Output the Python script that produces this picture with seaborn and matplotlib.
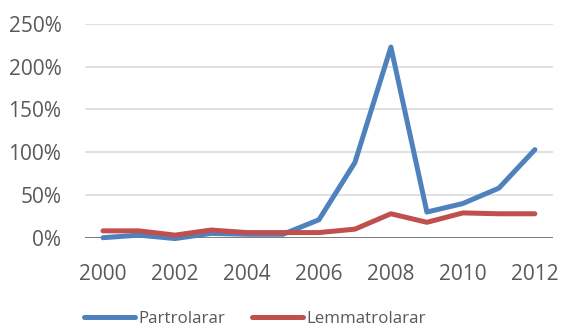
import matplotlib
matplotlib.use("Agg")
import matplotlib.pyplot as plt
import seaborn as sns
import pandas as pd
from matplotlib.lines import Line2D

# Yearly change, in percent
years = list(range(2000, 2013))
partrolarar = [0, 3, -1, 5, 4, 4, 21, 88, 223, 30, 40, 58, 103]
lemmatrolarar = [8, 8, 3, 9, 6, 6, 6, 10, 28, 18, 29, 28, 28]
series_names = ["Partrolarar", "Lemmatrolarar"]
y_ticks = [0, 50, 100, 150, 200, 250]
x_ticks = [2000, 2002, 2004, 2006, 2008, 2010, 2012]
colors = ["#4F81BD", "#C0504D"]

df = pd.DataFrame({
    "year": years * 2,
    "value": partrolarar + lemmatrolarar,
    "series": [series_names[0]] * len(years) + [series_names[1]] * len(years),
})

sns.set_theme(style="white")
plt.rcParams["font.family"] = ["Open Sans", "DejaVu Sans"]
text_color = "#595959"

fig = plt.figure(figsize=(5.61, 3.29), dpi=100)
ax = fig.add_axes([0.1515, 0.2775, 0.834, 0.6495])

sns.lineplot(data=df, x="year", y="value", hue="series",
             palette=colors, linewidth=3.6, ax=ax,
             legend=False, clip_on=False, solid_capstyle="round")

ax.set_xlim(1999.5, 2012.5)
ax.set_ylim(0, 250)
ax.set_yticks(y_ticks)
ax.set_yticklabels([f"{v}%" for v in y_ticks])
ax.set_xticks(x_ticks)
ax.set_xticklabels([str(v) for v in x_ticks])
ax.set_xlabel("")
ax.set_ylabel("")

for v in y_ticks[1:]:
    ax.axhline(v, color="#D9D9D9", linewidth=1.1, zorder=0)
ax.axhline(0, color="#595959", linewidth=1.1, zorder=1)

for s in ax.spines.values():
    s.set_visible(False)
ax.tick_params(axis="both", length=0, labelsize=15, colors=text_color)
ax.tick_params(axis="y", pad=17)
ax.tick_params(axis="x", pad=19)

handles = [Line2D([], [], color=c, linewidth=3.6, solid_capstyle="round")
           for c in colors]
leg = fig.legend(handles, series_names, loc="lower center", ncol=2,
                 frameon=False, fontsize=12.2, handlelength=3.0,
                 handletextpad=0.2, columnspacing=1.6,
                 borderaxespad=0.0, borderpad=0.0,
                 bbox_to_anchor=(0.455, 0.005))
for t in leg.get_texts():
    t.set_color(text_color)

fig.savefig("out.png", dpi=100)
